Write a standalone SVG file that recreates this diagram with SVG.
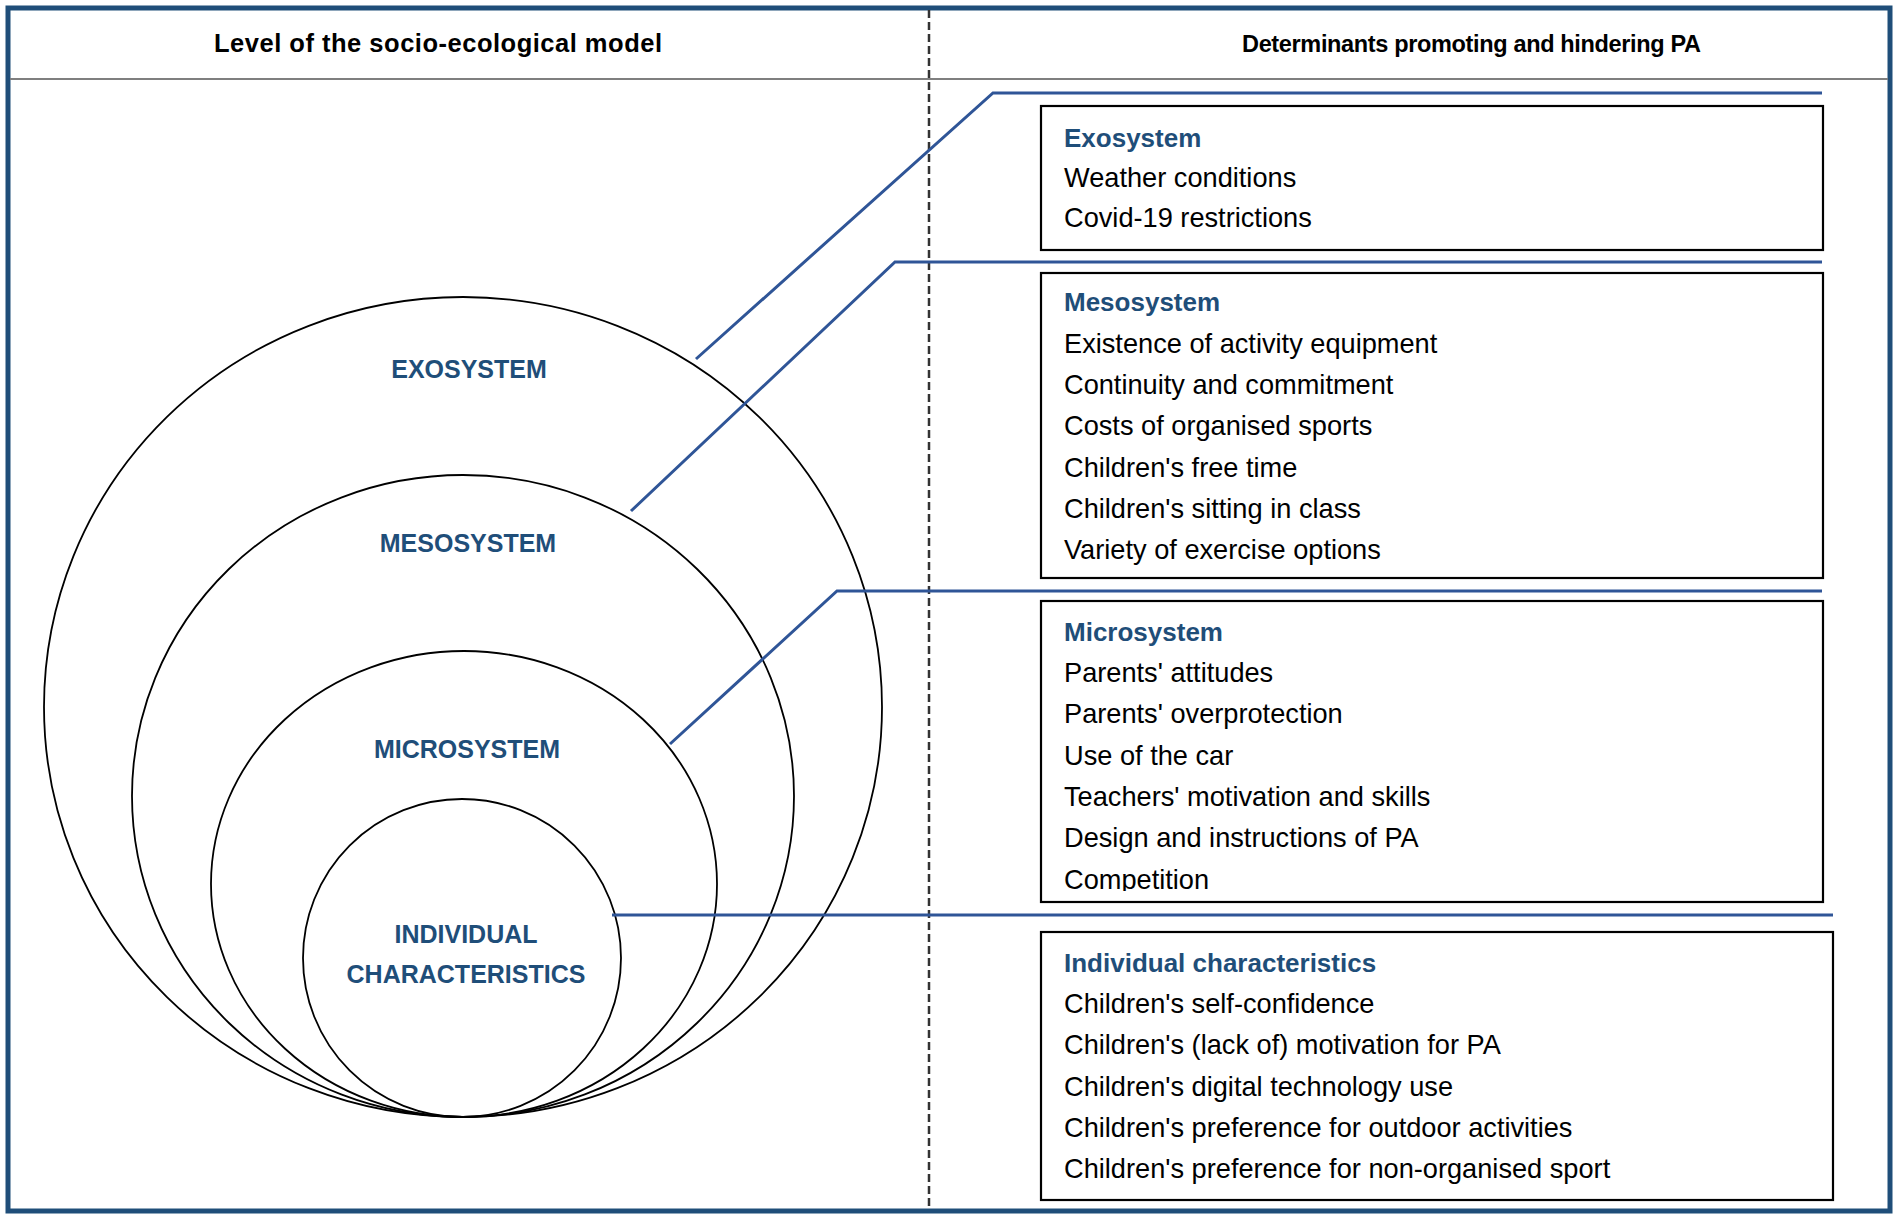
<svg xmlns="http://www.w3.org/2000/svg" width="1898" height="1220" viewBox="0 0 1898 1220">
<style>
.hdr{font-family:"Liberation Sans",Arial,sans-serif;font-weight:bold;fill:#000}
.lvl{font-family:"Liberation Sans",Arial,sans-serif;font-weight:bold;font-size:25px;fill:#1F4E79;text-anchor:middle}
.ttl{font-family:"Liberation Sans",Arial,sans-serif;font-weight:bold;font-size:26px;fill:#1F4E79}
.itm{font-family:"Liberation Sans",Arial,sans-serif;font-size:27.2px;fill:#000}
.ring{fill:none;stroke:#000;stroke-width:1.8}
.box{fill:#fff;stroke:#000;stroke-width:2.2}
.con{fill:none;stroke:#2F5597;stroke-width:3}
</style>
<defs>
<clipPath id="clipMicro"><rect x="1041" y="601" width="782" height="290"/></clipPath>
</defs>
<rect x="0" y="0" width="1898" height="1220" fill="#fff"/>
<g id="frame">
<rect x="8" y="8" width="1882" height="1203" fill="none" stroke="#1F4E79" stroke-width="5"/>
<line x1="10" y1="79" x2="1888" y2="79" stroke="#7F7F7F" stroke-width="2"/>
<line x1="929" y1="10" x2="929" y2="1209" stroke="#333" stroke-width="2.5" stroke-dasharray="8 4"/>
<text class="hdr" x="214" y="52" font-size="25.5" textLength="448">Level of the socio-ecological model</text>
<text class="hdr" x="1242" y="52" font-size="23.5" textLength="459">Determinants promoting and hindering PA</text>
</g>
<g id="rings">
<g id="ring-exo"><ellipse class="ring" cx="463" cy="707" rx="419" ry="410"/><text class="lvl" x="469" y="378">EXOSYSTEM</text></g>
<g id="ring-meso"><ellipse class="ring" cx="463" cy="796" rx="331" ry="321"/><text class="lvl" x="468" y="552">MESOSYSTEM</text></g>
<g id="ring-micro"><ellipse class="ring" cx="464" cy="884" rx="253" ry="233"/><text class="lvl" x="467" y="758">MICROSYSTEM</text></g>
<g id="ring-ind"><ellipse class="ring" cx="462" cy="958" rx="159" ry="159"/><text class="lvl" x="466" y="943">INDIVIDUAL</text><text class="lvl" x="466" y="983">CHARACTERISTICS</text></g>
</g>
<g id="connectors">
<polyline class="con" points="696,359 993,93 1822,93"/>
<polyline class="con" points="631,511 895,262 1822,262"/>
<polyline class="con" points="670,744 837,591 1822,591"/>
<polyline class="con" points="612,915 1833,915"/>
</g>
<g id="box-exo">
<rect class="box" x="1041" y="106" width="782" height="144"/>
<text class="ttl" x="1064" y="147">Exosystem</text>
<text class="itm" x="1064" y="187">Weather conditions</text>
<text class="itm" x="1064" y="227">Covid-19 restrictions</text>
</g>
<g id="box-meso">
<rect class="box" x="1041" y="273" width="782" height="305"/>
<text class="ttl" x="1064" y="311">Mesosystem</text>
<text class="itm" x="1064" y="353">Existence of activity equipment</text>
<text class="itm" x="1064" y="394">Continuity and commitment</text>
<text class="itm" x="1064" y="435">Costs of organised sports</text>
<text class="itm" x="1064" y="477">Children's free time</text>
<text class="itm" x="1064" y="518">Children's sitting in class</text>
<text class="itm" x="1064" y="559">Variety of exercise options</text>
</g>
<g id="box-micro">
<rect class="box" x="1041" y="601" width="782" height="301"/>
<g clip-path="url(#clipMicro)">
<text class="ttl" x="1064" y="641">Microsystem</text>
<text class="itm" x="1064" y="682">Parents' attitudes</text>
<text class="itm" x="1064" y="723">Parents' overprotection</text>
<text class="itm" x="1064" y="765">Use of the car</text>
<text class="itm" x="1064" y="806">Teachers' motivation and skills</text>
<text class="itm" x="1064" y="847">Design and instructions of PA</text>
<text class="itm" x="1064" y="889">Competition</text>
</g>
</g>
<g id="box-ind">
<rect class="box" x="1041" y="932" width="792" height="268"/>
<text class="ttl" x="1064" y="972">Individual characteristics</text>
<text class="itm" x="1064" y="1013">Children's self-confidence</text>
<text class="itm" x="1064" y="1054">Children's (lack of) motivation for PA</text>
<text class="itm" x="1064" y="1096">Children's digital technology use</text>
<text class="itm" x="1064" y="1137">Children's preference for outdoor activities</text>
<text class="itm" x="1064" y="1178">Children's preference for non-organised sport</text>
</g>
</svg>
